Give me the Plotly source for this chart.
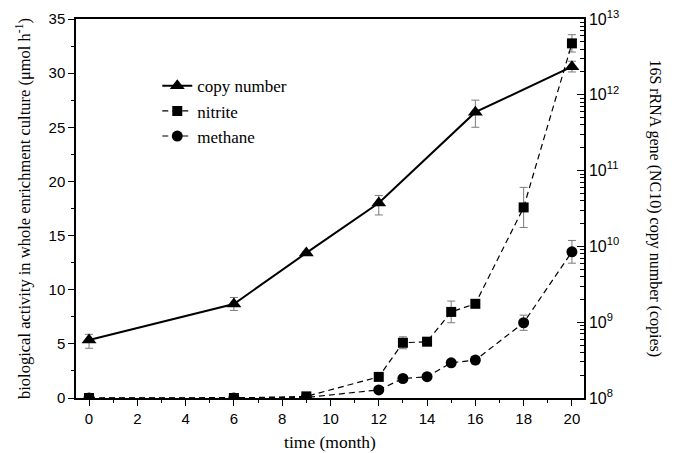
import plotly.graph_objects as go

months_copy = [0, 6, 9, 12, 16, 20]
copy_number = [5.83e8, 1.74e9, 8.2e9, 3.73e10, 5.9e11, 2.35e12]
copy_err_plus = [1.09e8, 0.38e9, 0.4e9, 0.97e10, 2.6e11, 0.42e12]
copy_err_minus = [1.30e8, 0.31e9, 0.4e9, 1.13e10, 2.17e11, 0.35e12]

months_act = [0, 6, 9, 12, 13, 14, 15, 16, 18, 20]
nitrite = [0.0, 0.0, 0.15, 1.95, 5.1, 5.2, 7.95, 8.7, 17.6, 32.75]
nitrite_err = [0, 0, 0, 0, 0.55, 0, 1.0, 0, 1.85, 0.8]
methane = [0.0, 0.0, 0.05, 0.75, 1.8, 1.97, 3.25, 3.5, 6.95, 13.5]
methane_err = [0, 0, 0, 0, 0, 0, 0, 0.35, 0.7, 1.05]

copy_exponents = [8, 9, 10, 11, 12, 13]
copy_tickvals = [10 ** e for e in copy_exponents]
copy_ticktext = ["10<sup>%d</sup>" % e for e in copy_exponents]

serif = "Liberation Serif, Times New Roman, serif"
sans = "Liberation Sans, Arial, sans-serif"
errc = "#7a7a7a"

minor_log = [m * 10 ** e for e in copy_exponents[:-1] for m in range(2, 10)]

fig = go.Figure()
fig.add_trace(go.Scatter(
    x=months_copy, y=copy_number, yaxis="y2", name="copy number",
    mode="lines+markers",
    line=dict(color="black", width=2),
    marker=dict(symbol="triangle-up", size=13, color="black"),
    error_y=dict(type="data", array=copy_err_plus, arrayminus=copy_err_minus,
                 color=errc, thickness=1, width=4),
))
fig.add_trace(go.Scatter(
    x=months_act, y=nitrite, name="nitrite", mode="lines+markers",
    line=dict(color="black", width=1.2, dash="6px,4px"),
    marker=dict(symbol="square", size=10, color="black"),
    error_y=dict(type="data", array=nitrite_err, color=errc, thickness=1, width=4),
))
fig.add_trace(go.Scatter(
    x=months_act, y=methane, name="methane", mode="lines+markers",
    line=dict(color="black", width=1.2, dash="6px,4px"),
    marker=dict(symbol="circle", size=11, color="black"),
    error_y=dict(type="data", array=methane_err, color=errc, thickness=1, width=4),
))

fig.update_layout(
    width=674, height=453,
    margin=dict(l=76, r=90, t=19, b=55, autoexpand=False),
    paper_bgcolor="white", plot_bgcolor="white",
    showlegend=True,
    legend=dict(x=0.16, y=0.87, xanchor="left", yanchor="top",
                font=dict(family=serif, size=17, color="black"),
                bgcolor="rgba(0,0,0,0)", itemwidth=30, tracegroupgap=0),
    xaxis=dict(
        range=[-0.54, 20.5], dtick=2, tick0=0,
        ticks="outside", ticklen=6, tickwidth=1.3, tickcolor="black",
        minor=dict(dtick=1, ticks="outside", ticklen=3, tickcolor="black"),
        showline=True, linecolor="black", linewidth=1.5, mirror=True,
        showgrid=False, zeroline=False,
        tickfont=dict(family=sans, size=15, color="black"),
        title=dict(text="time (month)", font=dict(family=serif, size=17.5, color="black"),
                   standoff=10),
    ),
    yaxis=dict(
        range=[0, 35], dtick=5,
        ticks="outside", ticklen=6, tickwidth=1.3, tickcolor="black",
        minor=dict(dtick=2.5, ticks="outside", ticklen=3, tickcolor="black"),
        showline=True, linecolor="black", linewidth=1.5,
        showgrid=False, zeroline=False,
        tickfont=dict(family=sans, size=15, color="black"),
        title=dict(text="biological activity in whole enrichment culture (μmol h<sup>-1</sup>)",
                   font=dict(family=serif, size=16.5, color="black"), standoff=14),
    ),
    yaxis2=dict(
        type="log", range=[8, 13], overlaying="y", side="right",
        tickmode="array", tickvals=copy_tickvals, ticktext=copy_ticktext,
        ticks="inside", ticklen=7, tickwidth=1.3, tickcolor="black",
        minor=dict(tickmode="array", tickvals=minor_log, ticks="inside", ticklen=4,
                   tickcolor="black", showgrid=False),
        showline=True, linecolor="black", linewidth=1.5,
        showgrid=False, zeroline=False,
        tickfont=dict(family=sans, size=16, color="black"),
    ),
    annotations=[dict(
        text="16S rRNA gene (NC10) copy number (copies)",
        xref="paper", yref="paper", x=1.14, y=0.5, textangle=90,
        showarrow=False, font=dict(family=serif, size=16, color="black"),
        xanchor="center", yanchor="middle",
    )],
)

fig.write_html("out.html")
